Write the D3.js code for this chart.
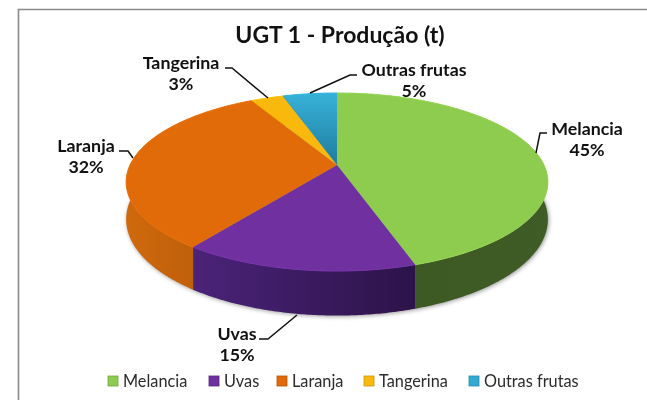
<!DOCTYPE html>
<html>
<head>
<meta charset="utf-8">
<script src="https://cdn.jsdelivr.net/npm/d3@7"></script>
<style>
  html, body { margin: 0; padding: 0; background: #fff; }
  svg { display: block; filter: blur(0.45px); }
  text { font-family: Lato, "Open Sans", sans-serif; fill: #111; }
</style>
</head>
<body>
<div id="chart"></div>
<script>
// values
const categories = ['Melancia', 'Uvas', 'Laranja', 'Tangerina', 'Outras frutas'];
const shares = [45, 15, 32, 3, 5];
const faceColors = ['#8ecc50', '#7030a0', '#e06b08', '#f8b90c', '#33aad2'];
const wallLeft = ['#3c5822', '#4b2379', '#cf690c', '#c08a08', '#1f7fa3'];
const wallRight = ['#3f5b26', '#2c1349', '#b3580b', '#c08a08', '#1f7fa3'];

const width = 647, height = 400;

// perspective squash of the unit circle onto the page
const pieGeom = { cx: 337, cy: 165, a: 207, b: 85.8, k: 0.191, depth: 36 };

// where the labels and their leader lines sit
const labelLayout = [
  { x: 587, y: 129, leader: [[547, 133], [540, 133], [536, 153]] },
  { x: 237, y: 334, leader: [[259, 339], [268, 339], [297, 315]] },
  { x: 86, y: 146, leader: [[119, 151], [128, 151], [133, 158]] },
  { x: 181, y: 63, leader: [[225, 68], [232, 68], [268, 98]] },
  { x: 414, y: 70, leader: [[357, 75], [350, 75], [310, 93]] }
];
const legendX = [108, 209, 277, 364, 469];

const svg = d3.select('#chart').append('svg')
  .attr('width', width)
  .attr('height', height);

const defs = svg.append('defs');
const color = d3.scaleOrdinal().domain(categories).range(faceColors);

// project an angle (0 = top, clockwise) and radius to the page
function project(angle, r, drop) {
  const u = Math.sin(angle) * r, v = -Math.cos(angle) * r;
  const w = 1 - pieGeom.k * v;
  return [
    pieGeom.cx + pieGeom.a * u / w,
    pieGeom.cy + pieGeom.b * v / w + (drop ? pieGeom.depth / w : 0)
  ];
}

function rimAngles(d) {
  const n = Math.max(2, Math.ceil((d.endAngle - d.startAngle) / 0.01));
  return d3.range(n + 1).map(i => d.startAngle + (d.endAngle - d.startAngle) * i / n);
}

const line = d3.line();
const slices = d3.pie().sort(null).value(d => d)(shares);

// soft shadow under the drum
defs.append('filter').attr('id', 'soft')
  .attr('x', '-10%').attr('y', '-10%').attr('width', '120%').attr('height', '120%')
  .append('feGaussianBlur').attr('stdDeviation', 2.2);

const fullCircle = d3.range(0, Math.PI * 2, 0.02);
svg.append('path')
  .attr('d', line(fullCircle.map(a => {
    const p = project(a, 1, true);
    return [p[0] + 1, p[1] + 1];
  })) + 'Z')
  .attr('fill', '#9a9a9a')
  .attr('filter', 'url(#soft)');

// outer frame, only top and left show in the crop
svg.append('path')
  .attr('d', line([[18.5, height], [18.5, 9.5], [width, 9.5]]))
  .attr('fill', 'none')
  .attr('stroke', '#8a8a8a')
  .attr('stroke-width', 1.6);

// walls first, top face paints over the back half
slices.forEach((d, i) => {
  const angles = rimAngles(d);
  const top = angles.map(a => project(a, 1, false));
  const bottom = angles.map(a => project(a, 1, true)).reverse();
  const xs = top.map(p => p[0]);
  const grad = defs.append('linearGradient')
    .attr('id', 'wall' + i)
    .attr('gradientUnits', 'userSpaceOnUse')
    .attr('x1', d3.min(xs)).attr('x2', d3.max(xs))
    .attr('y1', 0).attr('y2', 0);
  grad.append('stop').attr('offset', 0).attr('stop-color', wallLeft[i]);
  grad.append('stop').attr('offset', 1).attr('stop-color', wallRight[i]);
  svg.append('path')
    .attr('class', 'wall')
    .attr('d', line(top.concat(bottom)) + 'Z')
    .attr('fill', `url(#wall${i})`);
});

// teal slice fades towards the centre
const tealGrad = defs.append('linearGradient')
  .attr('id', 'tealFace')
  .attr('gradientUnits', 'userSpaceOnUse')
  .attr('x1', 0).attr('x2', 0).attr('y1', 95).attr('y2', 165);
tealGrad.append('stop').attr('offset', 0).attr('stop-color', '#37b0d6');
tealGrad.append('stop').attr('offset', 1).attr('stop-color', '#1f7c9f');

svg.selectAll('.face')
  .data(slices)
  .join('path')
  .attr('class', 'face')
  .attr('d', d => line([[pieGeom.cx, pieGeom.cy]].concat(rimAngles(d).map(a => project(a, 1, false)))) + 'Z')
  .attr('fill', (d, i) => i === 4 ? 'url(#tealFace)' : color(categories[i]));

// bevel highlight on the rim
svg.selectAll('.rim')
  .data(slices)
  .join('path')
  .attr('class', 'rim')
  .attr('d', d => line(rimAngles(d).map(a => project(a, 1, false))))
  .attr('fill', 'none')
  .attr('stroke', (d, i) => d3.color(faceColors[i]).brighter(0.2))
  .attr('stroke-width', 1);

// title
svg.append('text')
  .attr('x', 340)
  .attr('y', 43)
  .attr('text-anchor', 'middle')
  .style('font-size', '23px')
  .style('font-weight', 'bold')
  .text('UGT 1 - Produção (t)');

// data labels
labelLayout.forEach((l, i) => {
  svg.append('path')
    .attr('d', line(l.leader))
    .attr('fill', 'none')
    .attr('stroke', '#111')
    .attr('stroke-width', 1.5);
  svg.append('text')
    .attr('x', l.x).attr('y', l.y + 6)
    .attr('text-anchor', 'middle')
    .style('font-size', '17.8px')
    .style('font-weight', 'bold')
    .text(categories[i]);
  svg.append('text')
    .attr('x', l.x).attr('y', l.y + 27)
    .attr('text-anchor', 'middle')
    .style('font-size', '17.8px')
    .style('font-weight', 'bold')
    .text(shares[i] + '%');
});

// legend
categories.forEach((c, i) => {
  svg.append('rect')
    .attr('x', legendX[i]).attr('y', 376)
    .attr('width', 10).attr('height', 10)
    .attr('fill', faceColors[i])
    .attr('stroke', d3.color(faceColors[i]).darker(0.6))
    .attr('stroke-width', 0.8);
  svg.append('text')
    .attr('x', legendX[i] + 15).attr('y', 386.5)
    .style('font-size', '16.3px')
    .style('fill', '#2b2b2b')
    .text(c);
});
</script>
</body>
</html>
